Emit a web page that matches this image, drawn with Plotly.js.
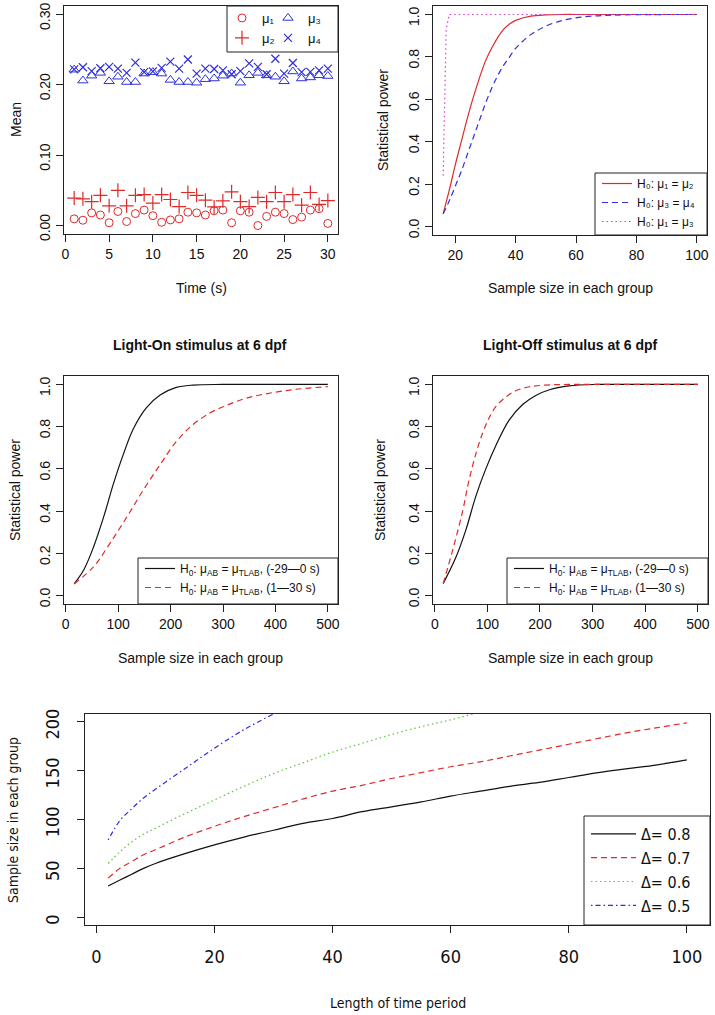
<!DOCTYPE html>
<html><head><meta charset="utf-8">
<script src="https://cdn.plot.ly/plotly-3.0.1.min.js"></script>
<style>html,body{margin:0;padding:0;background:#fff}</style>
</head><body><div id="chart" style="width:715px;height:1015px"></div>
<script>
// ---------- Panel 1: means over time ----------
const time = [1,2,3,4,5,6,7,8,9,10,11,12,13,14,15,16,17,18,19,20,21,22,23,24,25,26,27,28,29,30];
const mu1 = [0.0095,0.0076,0.018,0.015,0.004,0.020,0.0057,0.017,0.022,0.014,0.0047,0.008,0.0095,0.019,0.018,0.015,0.021,0.022,0.004,0.021,0.019,0.000,0.013,0.019,0.017,0.0085,0.012,0.022,0.024,0.003];
const mu2 = [0.039,0.038,0.034,0.043,0.028,0.050,0.028,0.043,0.044,0.032,0.044,0.037,0.027,0.047,0.043,0.036,0.0265,0.035,0.048,0.034,0.027,0.040,0.034,0.047,0.034,0.044,0.029,0.047,0.030,0.0355];
const mu3 = [0.2215,0.206,0.213,0.217,0.205,0.2115,0.204,0.204,0.216,0.218,0.216,0.207,0.204,0.204,0.203,0.208,0.209,0.213,0.216,0.203,0.2135,0.217,0.2135,0.2115,0.205,0.219,0.209,0.2105,0.2135,0.2125];
const mu4 = [0.222,0.225,0.2195,0.2235,0.2255,0.223,0.217,0.2315,0.218,0.219,0.224,0.233,0.223,0.236,0.216,0.223,0.2225,0.2205,0.215,0.2195,0.2305,0.2255,0.215,0.237,0.216,0.231,0.218,0.2185,0.2205,0.223];

// ---------- Panel 2: power vs sample size ----------
const n2_red = [16,18,20,22,24,26,28,30,32,34,36,38,40,45,50,55,60,70,80,90,100];
const pw_12  = [0.06,0.17,0.29,0.40,0.51,0.61,0.70,0.78,0.84,0.89,0.93,0.955,0.972,0.992,0.998,1,1,1,1,1,1];
const n2_blue = [16,18,20,22,24,26,28,30,32,34,36,38,40,45,50,55,60,65,70,80,100];
const pw_34  = [0.06,0.12,0.19,0.26,0.34,0.42,0.50,0.58,0.65,0.71,0.76,0.80,0.84,0.905,0.945,0.97,0.984,0.992,0.996,0.999,1];
const n2_mag = [16,17,18,100];
const pw_13  = [0.24,0.93,1,1];

// ---------- Panel 3: Light-On ----------
const n3_pre  = [16,35,53,72,91,110,129,154,180,211,243,300,400,500];
const on_pre  = [0.055,0.125,0.23,0.37,0.53,0.67,0.79,0.89,0.95,0.986,0.997,1,1,1];
const n3_post = [16,53,84,116,148,180,211,243,275,306,338,370,433,500];
const on_post = [0.055,0.136,0.246,0.37,0.50,0.62,0.73,0.81,0.865,0.9,0.93,0.95,0.975,0.99];

// ---------- Panel 4: Light-Off ----------
const n4_pre   = [16,40,59,78,97,116,141,167,192,218,255,306,400,500];
const off_pre  = [0.057,0.18,0.31,0.47,0.60,0.71,0.83,0.905,0.948,0.975,0.993,1,1,1];
const n4_post  = [16,34,53,65,78,91,103,116,135,154,180,211,255,350,500];
const off_post = [0.057,0.215,0.40,0.545,0.67,0.77,0.84,0.895,0.94,0.97,0.989,0.997,1,1,1];

// ---------- Panel 5: required sample size ----------
const len_t = [2,4,6,8,10,15,20,25,30,35,40,45,50,55,60,65,70,75,80,85,90,95,100];
const ss08 = [32,38,44,50,55,65,74,82,89,96,101,108,113,118,124,129,134,138,143,148,152,156,161];
const ss07 = [40,50,57,64,69,82,93,103,112,121,129,135,142,148,154,159,165,171,177,183,189,194,199];
const len_g = [2,4,6,8,10,15,20,25,30,35,40,45,50,55,60,65];
const ss06 = [55,67,77,85,91,106,120,134,147,158,169,178,187,195,202,210];
const len_b = [2,4,6,8,10,15,20,25,30];
const ss05 = [79,99,111,122,131,152,173,192,208];

const RED = '#dd2a2a', BLUE = '#2f2fdd', GREEN = '#5cc43a', MAG = '#d040d0';
const W = 715, H = 1015;
const dx = (a,b) => [a/W, b/W];
const dy = (a,b) => [1-b/H, 1-a/H];
const FONT = 'Liberation Sans, Arial, sans-serif';
const NARROW = 'Liberation Sans Narrow, DejaVu Sans Condensed, Arial Narrow, sans-serif';

function ax(domain, range, tickvals, fmt, extra){
  return Object.assign({domain:domain, range:range, tickvals:tickvals, tickformat:fmt,
    showline:true, mirror:true, linecolor:'#222', linewidth:1, ticks:'outside', ticklen:7,
    tickcolor:'#222', showgrid:false, zeroline:false, fixedrange:true, ticklabeloverflow:'allow',
    tickfont:{family:FONT, size:14, color:'#111'}}, extra||{});
}
const yextra = {tickangle:-90, ticklabelshift:4};

const traces = [
  {x:time, y:mu1, mode:'markers', name:'μ₁', xaxis:'x', yaxis:'y', legend:'legend',
   marker:{symbol:'circle-open', size:8, color:RED, line:{width:1, color:RED}}},
  {x:time, y:mu2, mode:'markers', name:'μ₂', xaxis:'x', yaxis:'y', legend:'legend',
   marker:{symbol:'cross-thin-open', size:10, color:RED, line:{width:1.2, color:RED}}},
  {x:time, y:mu3, mode:'markers', name:'μ₃', xaxis:'x', yaxis:'y', legend:'legend2',
   marker:{symbol:'triangle-up-open', size:9, color:BLUE, line:{width:1, color:BLUE}}},
  {x:time, y:mu4, mode:'markers', name:'μ₄', xaxis:'x', yaxis:'y', legend:'legend2',
   marker:{symbol:'x-thin-open', size:8, color:BLUE, line:{width:1.2, color:BLUE}}},

  {x:n2_red, y:pw_12, mode:'lines', name:'H₀: μ₁ = μ₂', xaxis:'x2', yaxis:'y2', legend:'legend3',
   line:{color:RED, width:1.2, shape:'spline'}},
  {x:n2_blue, y:pw_34, mode:'lines', name:'H₀: μ₃ = μ₄', xaxis:'x2', yaxis:'y2', legend:'legend3',
   line:{color:BLUE, width:1.2, dash:'6px,4px', shape:'spline'}},
  {x:n2_mag, y:pw_13, mode:'lines', name:'H₀: μ₁ = μ₃', xaxis:'x2', yaxis:'y2', legend:'legend3',
   line:{color:MAG, width:1.2, dash:'1.5px,3px'}},

  {x:n3_pre, y:on_pre, mode:'lines', name:'H<sub>0</sub>: μ<sub>AB</sub> = μ<sub>TLAB</sub>, (-29—0 s)', xaxis:'x3', yaxis:'y3', legend:'legend4',
   line:{color:'#111', width:1.2, shape:'spline'}},
  {x:n3_post, y:on_post, mode:'lines', name:'H<sub>0</sub>: μ<sub>AB</sub> = μ<sub>TLAB</sub>, (1—30 s)', xaxis:'x3', yaxis:'y3', legend:'legend4',
   line:{color:RED, width:1.2, dash:'6px,4px', shape:'spline'}},

  {x:n4_pre, y:off_pre, mode:'lines', name:'H<sub>0</sub>: μ<sub>AB</sub> = μ<sub>TLAB</sub>, (-29—0 s)', xaxis:'x4', yaxis:'y4', legend:'legend5',
   line:{color:'#111', width:1.2, shape:'spline'}},
  {x:n4_post, y:off_post, mode:'lines', name:'H<sub>0</sub>: μ<sub>AB</sub> = μ<sub>TLAB</sub>, (1—30 s)', xaxis:'x4', yaxis:'y4', legend:'legend5',
   line:{color:RED, width:1.2, dash:'6px,4px', shape:'spline'}},

  {x:len_t, y:ss08, mode:'lines', name:'Δ= 0.8', xaxis:'x5', yaxis:'y5', legend:'legend6',
   line:{color:'#111', width:1.2, shape:'spline'}},
  {x:len_t, y:ss07, mode:'lines', name:'Δ= 0.7', xaxis:'x5', yaxis:'y5', legend:'legend6',
   line:{color:RED, width:1.2, dash:'6px,4px', shape:'spline'}},
  {x:len_g, y:ss06, mode:'lines', name:'Δ= 0.6', xaxis:'x5', yaxis:'y5', legend:'legend6',
   line:{color:GREEN, width:1.2, dash:'1.5px,3px', shape:'spline'}},
  {x:len_b, y:ss05, mode:'lines', name:'Δ= 0.5', xaxis:'x5', yaxis:'y5', legend:'legend6',
   line:{color:BLUE, width:1.2, dash:'1.5px,3px,5px,3px', shape:'spline'}}
];

function leg(px, py, size, fam, extra){
  return Object.assign({x:px/W, y:1-py/H, xanchor:'left', yanchor:'top', bgcolor:'rgba(0,0,0,0)', borderwidth:0,
    font:{family:fam||FONT, size:size, color:'#111'}, tracegroupgap:0, itemclick:false, itemdoubleclick:false}, extra||{});
}

function ann(text, px, py, size, opts){
  return Object.assign({text:text, x:px/W, y:1-py/H, xref:'paper', yref:'paper', showarrow:false,
    xanchor:'center', yanchor:'middle', font:{family:FONT, size:size, color:'#111'}}, opts||{});
}

const boxLine = {color:'#222', width:1};
const bigTick = {family:NARROW, size:18, color:'#111'};
const layout = {
  width:W, height:H, margin:{l:0,r:0,t:0,b:0}, paper_bgcolor:'#fff', plot_bgcolor:'#fff',
  showlegend:true, font:{family:FONT},
  xaxis: ax(dx(64,338), [-0.16,31.16], [0,5,10,15,20,25,30], 'd', {anchor:'y'}),
  yaxis: ax(dy(6,234), [-0.012,0.312], [0,0.1,0.2,0.3], '.2f', Object.assign({anchor:'x'}, yextra)),
  xaxis2: ax(dx(433,707), [12.64,103.36], [20,40,60,80,100], 'd', {anchor:'y2'}),
  yaxis2: ax(dy(6,235), [-0.04,1.04], [0,0.2,0.4,0.6,0.8,1], '.1f', Object.assign({anchor:'x2'}, yextra)),
  xaxis3: ax(dx(64,338), [-3.36,519.36], [0,100,200,300,400,500], 'd', {anchor:'y3'}),
  yaxis3: ax(dy(376,604), [-0.04,1.04], [0,0.2,0.4,0.6,0.8,1], '.1f', Object.assign({anchor:'x3'}, yextra)),
  xaxis4: ax(dx(433,708), [-3.36,519.36], [0,100,200,300,400,500], 'd', {anchor:'y4'}),
  yaxis4: ax(dy(376,604), [-0.04,1.04], [0,0.2,0.4,0.6,0.8,1], '.1f', Object.assign({anchor:'x4'}, yextra)),
  xaxis5: ax(dx(85,710), [-1.92,103.92], [0,20,40,60,80,100], 'd', {anchor:'y5', tickfont:bigTick, ticklabelstandoff:8}),
  yaxis5: ax(dy(714,925), [-8,208], [0,50,100,150,200], 'd', Object.assign({}, yextra, {anchor:'x5', tickfont:bigTick, ticklabelstandoff:11, ticklabelshift:5})),
  legend: leg(222, 3, 13),
  legend2: leg(268, 3, 13),
  legend3: leg(597, 169, 12),
  legend4: leg(140, 554, 12),
  legend5: leg(509, 554, 12),
  legend6: leg(586, 817, 16, NARROW, {itemwidth:45}),
  shapes: [
    {type:'rect', xref:'paper', yref:'paper', x0:227/W, x1:338/W, y0:1-52/H, y1:1-6/H, line:boxLine, layer:'above'},
    {type:'rect', xref:'paper', yref:'paper', x0:595/W, x1:707/W, y0:1-235/H, y1:1-173/H, line:boxLine, layer:'above'},
    {type:'rect', xref:'paper', yref:'paper', x0:138/W, x1:338/W, y0:1-604/H, y1:1-558/H, line:boxLine, layer:'above'},
    {type:'rect', xref:'paper', yref:'paper', x0:507/W, x1:708/W, y0:1-604/H, y1:1-558/H, line:boxLine, layer:'above'},
    {type:'rect', xref:'paper', yref:'paper', x0:584/W, x1:710/W, y0:1-925/H, y1:1-816/H, line:boxLine, layer:'above'}
  ],
  annotations: [
    ann('Mean', 16, 120, 14, {textangle:-90}),
    ann('Time (s)', 201, 288, 14),
    ann('Statistical power', 383, 120, 14, {textangle:-90}),
    ann('Sample size in each group', 570, 288, 14),
    ann('<b>Light-On stimulus at 6 dpf</b>', 200, 345, 14),
    ann('Statistical power', 15, 490, 14, {textangle:-90}),
    ann('Sample size in each group', 200, 658, 14),
    ann('<b>Light-Off stimulus at 6 dpf</b>', 570, 345, 14),
    ann('Statistical power', 380, 490, 14, {textangle:-90}),
    ann('Sample size in each group', 570, 658, 14),
    ann('Sample size in each group', 13, 820, 13, {textangle:-90, font:{family:NARROW, size:14, color:'#111'}}),
    ann('Length of time period', 398, 1003, 13, {font:{family:NARROW, size:14, color:'#111'}})
  ]
};

Plotly.newPlot('chart', traces, layout, {displayModeBar:false, staticPlot:true});
</script>
</body></html>
